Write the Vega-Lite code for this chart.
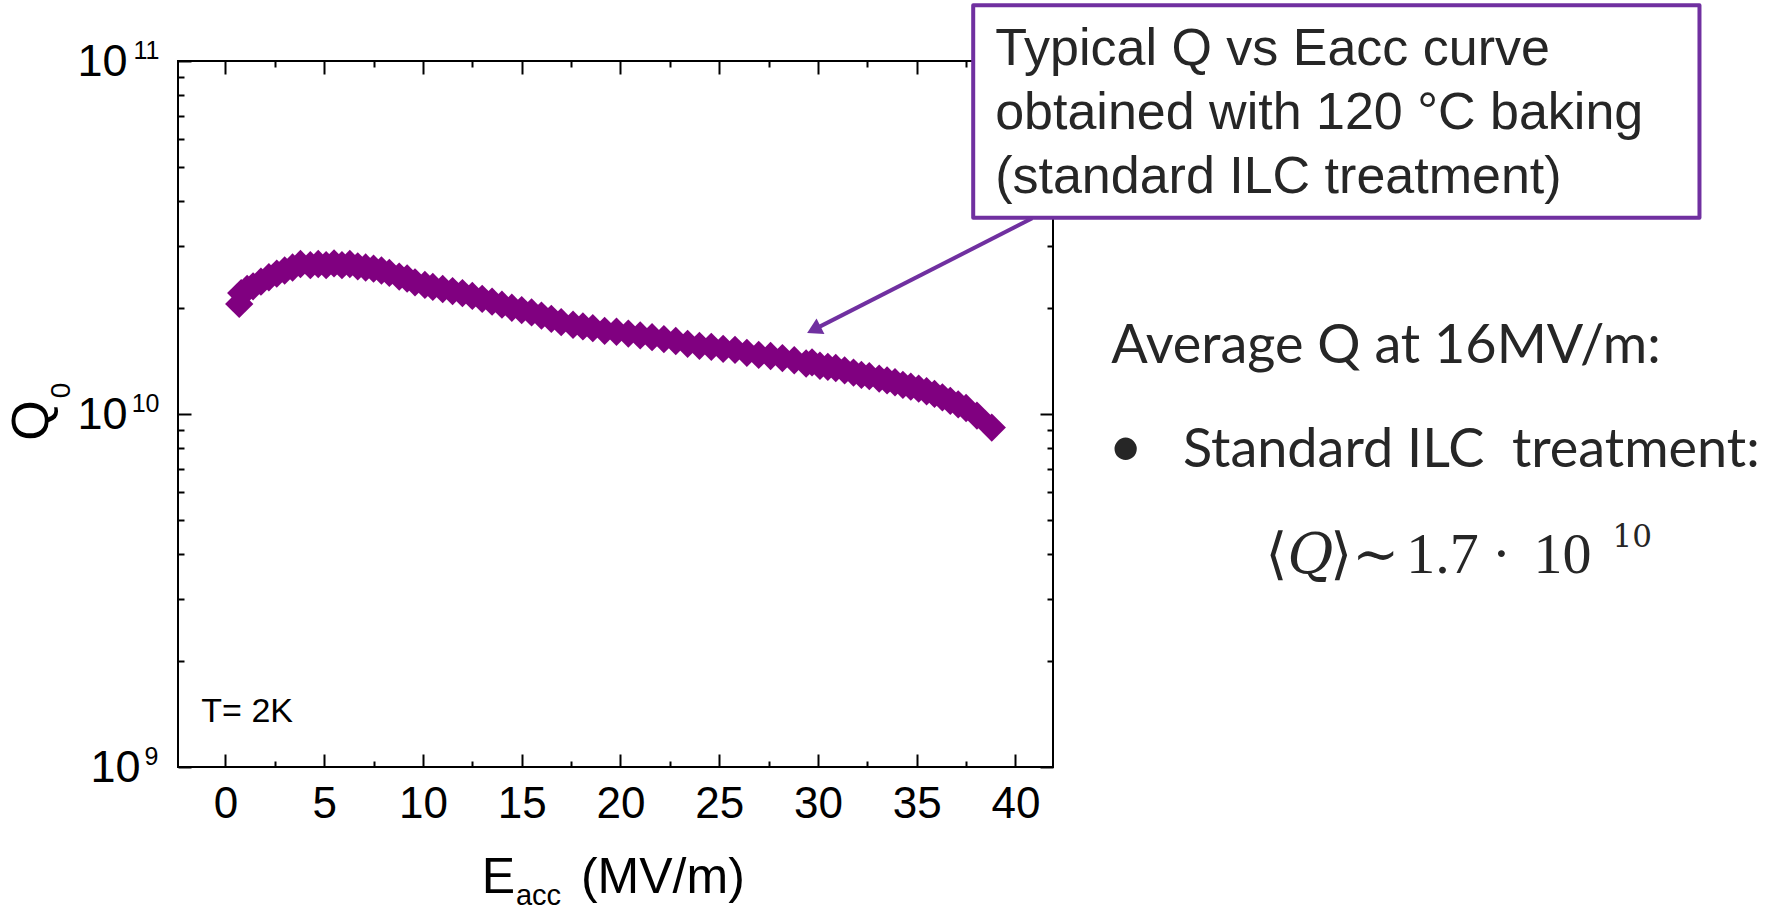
{
  "$schema": "https://vega.github.io/schema/vega-lite/v6.json",
  "width": 875,
  "height": 706,
  "autosize": {"type": "none"},
  "padding": {"left": 178, "top": 61, "right": 726, "bottom": 147},
  "background": "white",
  "config": {"view": {"stroke": "black", "strokeWidth": 2}, "font": "Liberation Sans"},
  "datasets": {
    "curve": [
      {"E": 0.7, "Q": 2.05e10}, {"E": 0.8, "Q": 2.2e10}, {"E": 1.1, "Q": 2.26e10}, {"E": 1.4, "Q": 2.3e10},
      {"E": 1.8, "Q": 2.37e10}, {"E": 2.2, "Q": 2.44e10}, {"E": 2.6, "Q": 2.5e10}, {"E": 3.0, "Q": 2.55e10},
      {"E": 3.4, "Q": 2.6e10}, {"E": 3.8, "Q": 2.66e10}, {"E": 4.3, "Q": 2.64e10}, {"E": 4.7, "Q": 2.66e10},
      {"E": 5.1, "Q": 2.64e10}, {"E": 5.5, "Q": 2.67e10}, {"E": 5.9, "Q": 2.64e10}, {"E": 6.3, "Q": 2.66e10},
      {"E": 6.7, "Q": 2.62e10}, {"E": 7.1, "Q": 2.6e10}, {"E": 7.5, "Q": 2.58e10}, {"E": 7.9, "Q": 2.55e10},
      {"E": 8.3, "Q": 2.51e10}, {"E": 8.8, "Q": 2.45e10}, {"E": 9.2, "Q": 2.42e10}, {"E": 9.6, "Q": 2.36e10},
      {"E": 10.1, "Q": 2.32e10}, {"E": 10.5, "Q": 2.29e10}, {"E": 11.0, "Q": 2.26e10}, {"E": 11.5, "Q": 2.23e10},
      {"E": 12.0, "Q": 2.2e10}, {"E": 12.5, "Q": 2.16e10}, {"E": 13.0, "Q": 2.12e10}, {"E": 13.5, "Q": 2.08e10},
      {"E": 14.0, "Q": 2.04e10}, {"E": 14.5, "Q": 2.0e10}, {"E": 15.0, "Q": 1.97e10}, {"E": 15.5, "Q": 1.94e10},
      {"E": 16.0, "Q": 1.9e10}, {"E": 16.5, "Q": 1.86e10}, {"E": 17.0, "Q": 1.82e10}, {"E": 17.6, "Q": 1.79e10},
      {"E": 18.1, "Q": 1.77e10}, {"E": 18.6, "Q": 1.75e10}, {"E": 19.2, "Q": 1.72e10}, {"E": 19.8, "Q": 1.71e10},
      {"E": 20.4, "Q": 1.69e10}, {"E": 21.0, "Q": 1.67e10}, {"E": 21.6, "Q": 1.65e10}, {"E": 22.2, "Q": 1.63e10},
      {"E": 22.8, "Q": 1.61e10}, {"E": 23.4, "Q": 1.58e10}, {"E": 24.0, "Q": 1.56e10}, {"E": 24.6, "Q": 1.55e10},
      {"E": 25.2, "Q": 1.53e10}, {"E": 25.8, "Q": 1.52e10}, {"E": 26.4, "Q": 1.49e10}, {"E": 27.0, "Q": 1.47e10},
      {"E": 27.6, "Q": 1.46e10}, {"E": 28.2, "Q": 1.44e10}, {"E": 28.8, "Q": 1.42e10}, {"E": 29.4, "Q": 1.39e10},
      {"E": 29.7, "Q": 1.4e10}, {"E": 30.1, "Q": 1.37e10}, {"E": 30.5, "Q": 1.36e10}, {"E": 30.9, "Q": 1.35e10},
      {"E": 31.35, "Q": 1.33e10}, {"E": 31.8, "Q": 1.31e10}, {"E": 32.2, "Q": 1.29e10}, {"E": 32.6, "Q": 1.28e10},
      {"E": 33.1, "Q": 1.26e10}, {"E": 33.5, "Q": 1.245e10}, {"E": 33.9, "Q": 1.23e10}, {"E": 34.3, "Q": 1.21e10},
      {"E": 34.7, "Q": 1.195e10}, {"E": 35.1, "Q": 1.18e10}, {"E": 35.5, "Q": 1.16e10}, {"E": 35.9, "Q": 1.14e10},
      {"E": 36.3, "Q": 1.115e10}, {"E": 36.7, "Q": 1.09e10}, {"E": 37.1, "Q": 1.065e10}, {"E": 37.5, "Q": 1.04e10},
      {"E": 38.05, "Q": 0.99e10}, {"E": 38.8, "Q": 0.915e10}
    ]
  },
  "resolve": {"axis": {"x": "independent", "y": "independent"}},
  "layer": [
    {
      "data": {"name": "curve"},
      "mark": {"type": "point", "shape": "diamond", "filled": true, "size": 800, "color": "#800080", "opacity": 1, "strokeWidth": 0},
      "encoding": {
        "x": {
          "field": "E", "type": "quantitative",
          "scale": {"domain": [-2.4, 41.9], "nice": false, "zero": false},
          "axis": {
            "orient": "bottom", "title": null, "domain": false, "grid": false, "ticks": false,
            "values": [0, 5, 10, 15, 20, 25, 30, 35, 40],
            "format": "d",
            "labelFont": "Liberation Sans", "labelFontSize": 44, "labelColor": "black",
            "labelPadding": 15, "labelFlush": false, "labelOverlap": false, "labelBound": false
          }
        },
        "y": {
          "field": "Q", "type": "quantitative",
          "scale": {"type": "log", "domain": [1e9, 1e11], "nice": false},
          "axis": {
            "orient": "left", "title": null, "domain": false, "grid": false, "ticks": false,
            "values": [1e9, 1e10, 1e11],
            "labelExpr": "'10'",
            "labelFont": "Liberation Sans", "labelFontSize": 45, "labelColor": "black",
            "labelPadding": {"condition": {"test": "datum.value === 1e9", "value": 38}, "value": 51},
            "labelOverlap": false, "labelBound": false, "labelFlush": false
          }
        }
      }
    },
    {
      "data": {"values": [{}]},
      "mark": {"type": "text", "text": "T= 2K", "font": "Liberation Sans", "fontSize": 34, "align": "left", "baseline": "alphabetic", "color": "black"},
      "encoding": {
        "x": {
          "datum": -1.22, "type": "quantitative",
          "scale": {"domain": [-2.4, 41.9], "nice": false, "zero": false},
          "axis": {
            "orient": "top", "title": null, "domain": false, "grid": false, "labels": false,
            "values": [0, 2.5, 5, 7.5, 10, 12.5, 15, 17.5, 20, 22.5, 25, 27.5, 30, 32.5, 35, 37.5, 40],
            "tickColor": "black", "tickWidth": 2,
            "tickSize": {"condition": {"test": "datum.value % 5 === 0", "value": -13}, "value": -6}
          }
        },
        "y": {
          "datum": 1.342e9, "type": "quantitative",
          "scale": {"type": "log", "domain": [1e9, 1e11], "nice": false},
          "axis": {
            "orient": "right", "title": null, "domain": false, "grid": false, "labels": false,
            "values": [1e9, 2e9, 3e9, 4e9, 5e9, 6e9, 7e9, 8e9, 9e9, 1e10, 2e10, 3e10, 4e10, 5e10, 6e10, 7e10, 8e10, 9e10, 1e11],
            "tickColor": "black", "tickWidth": 2,
            "tickSize": {"condition": {"test": "datum.value === 1e9 || datum.value === 1e10 || datum.value === 1e11", "value": -13}, "value": -6}
          }
        }
      }
    },
    {
      "data": {"values": [{}]},
      "mark": {"type": "text", "text": "Q", "font": "Liberation Sans", "fontSize": 52, "angle": 270, "align": "center", "baseline": "alphabetic", "color": "black"},
      "encoding": {
        "x": {
          "datum": -9.0, "type": "quantitative",
          "scale": {"domain": [-2.4, 41.9], "nice": false, "zero": false},
          "axis": {
            "orient": "bottom", "title": null, "domain": false, "grid": false, "labels": false,
            "values": [0, 2.5, 5, 7.5, 10, 12.5, 15, 17.5, 20, 22.5, 25, 27.5, 30, 32.5, 35, 37.5, 40],
            "tickColor": "black", "tickWidth": 2,
            "tickSize": {"condition": {"test": "datum.value % 5 === 0", "value": -13}, "value": -6}
          }
        },
        "y": {
          "datum": 9.59e9, "type": "quantitative",
          "scale": {"type": "log", "domain": [1e9, 1e11], "nice": false},
          "axis": {
            "orient": "left", "title": null, "domain": false, "grid": false, "labels": false,
            "values": [1e9, 2e9, 3e9, 4e9, 5e9, 6e9, 7e9, 8e9, 9e9, 1e10, 2e10, 3e10, 4e10, 5e10, 6e10, 7e10, 8e10, 9e10, 1e11],
            "tickColor": "black", "tickWidth": 2,
            "tickSize": {"condition": {"test": "datum.value === 1e9 || datum.value === 1e10 || datum.value === 1e11", "value": -13}, "value": -6}
          }
        }
      }
    },
    {
      "data": {"values": [{}]},
      "mark": {"type": "text", "text": "0", "font": "Liberation Sans", "fontSize": 28, "angle": 270, "align": "left", "baseline": "alphabetic", "color": "black"},
      "encoding": {
        "x": {"datum": -7.89, "type": "quantitative", "scale": {"domain": [-2.4, 41.9], "nice": false, "zero": false}, "axis": null},
        "y": {
          "datum": 1.108e10, "type": "quantitative",
          "scale": {"type": "log", "domain": [1e9, 1e11], "nice": false},
          "axis": {
            "orient": "left", "title": null, "domain": false, "grid": false, "ticks": false,
            "values": [1e9, 1e10, 1e11],
            "labelExpr": "datum.value === 1e9 ? '9' : datum.value === 1e10 ? '10' : '11'",
            "labelFont": "Liberation Sans", "labelFontSize": 25, "labelColor": "black",
            "labelAlign": "right", "labelBaseline": "alphabetic", "labelOffset": -3,
            "labelPadding": {"condition": {"test": "datum.value === 1e9", "value": 20}, "value": 19},
            "labelOverlap": false, "labelBound": false, "labelFlush": false
          }
        }
      }
    },
    {
      "data": {"values": [{}]},
      "mark": {"type": "text", "text": "E", "font": "Liberation Sans", "fontSize": 50, "align": "left", "baseline": "alphabetic", "color": "black"},
      "encoding": {
        "x": {"datum": 12.98, "type": "quantitative", "axis": null},
        "y": {"datum": 4.387e8, "type": "quantitative", "scale": {"type": "log"}, "axis": null}
      }
    },
    {
      "data": {"values": [{}]},
      "mark": {"type": "text", "text": "acc", "font": "Liberation Sans", "fontSize": 29, "align": "left", "baseline": "alphabetic", "color": "black"},
      "encoding": {
        "x": {"datum": 14.71, "type": "quantitative", "axis": null},
        "y": {"datum": 4.058e8, "type": "quantitative", "scale": {"type": "log"}, "axis": null}
      }
    },
    {
      "data": {"values": [{}]},
      "mark": {"type": "text", "text": "(MV/m)", "font": "Liberation Sans", "fontSize": 50, "align": "left", "baseline": "alphabetic", "color": "black"},
      "encoding": {
        "x": {"datum": 18.0, "type": "quantitative", "axis": null},
        "y": {"datum": 4.387e8, "type": "quantitative", "scale": {"type": "log"}, "axis": null}
      }
    },
    {
      "data": {"values": [{}]},
      "mark": {"type": "rule", "color": "#7030A0", "strokeWidth": 4},
      "encoding": {
        "x": {"datum": 40.85, "type": "quantitative", "axis": null},
        "y": {"datum": 3.584e10, "type": "quantitative", "scale": {"type": "log"}, "axis": null},
        "x2": {"datum": 29.79},
        "y2": {"datum": 1.734e10}
      }
    },
    {
      "data": {"values": [{}]},
      "mark": {"type": "point", "shape": "triangle-up", "filled": true, "color": "#7030A0", "size": 300, "angle": 243, "opacity": 1, "strokeWidth": 0},
      "encoding": {
        "x": {"datum": 29.79, "type": "quantitative", "axis": null},
        "y": {"datum": 1.734e10, "type": "quantitative", "scale": {"type": "log"}, "axis": null}
      }
    },
    {
      "data": {"values": [{}]},
      "mark": {"type": "rect", "fill": "white", "stroke": "#7030A0", "strokeWidth": 4, "strokeJoin": "round"},
      "encoding": {
        "x": {"datum": 37.86, "type": "quantitative", "axis": null},
        "x2": {"datum": 74.63},
        "y": {"datum": 1.438e11, "type": "quantitative", "scale": {"type": "log"}, "axis": null},
        "y2": {"datum": 3.596e10}
      }
    },
    {
      "data": {"values": [{}]},
      "mark": {"type": "text", "text": ["Typical Q vs Eacc curve", "obtained with 120 °C baking", "(standard ILC treatment)"], "font": "Liberation Sans", "fontSize": 52, "lineHeight": 64, "align": "left", "baseline": "alphabetic", "color": "#262626"},
      "encoding": {
        "x": {"datum": 38.97, "type": "quantitative", "axis": null},
        "y": {"datum": 9.72e10, "type": "quantitative", "scale": {"type": "log"}, "axis": null}
      }
    },
    {
      "data": {"values": [{}]},
      "mark": {"type": "text", "text": "Average Q at 16MV/m:", "font": "Lato", "fontSize": 54, "align": "left", "baseline": "alphabetic", "color": "#262626"},
      "encoding": {
        "x": {"datum": 44.85, "type": "quantitative", "axis": null},
        "y": {"datum": 1.392e10, "type": "quantitative", "scale": {"type": "log"}, "axis": null}
      }
    },
    {
      "data": {"values": [{}]},
      "mark": {"type": "text", "text": "•", "font": "Lato", "fontSize": 60, "align": "left", "baseline": "alphabetic", "color": "#262626"},
      "encoding": {
        "x": {"datum": 44.7, "type": "quantitative", "axis": null},
        "y": {"datum": 7.08e9, "type": "quantitative", "scale": {"type": "log"}, "axis": null}
      }
    },
    {
      "data": {"values": [{}]},
      "mark": {"type": "text", "text": "Standard ILC\u00a0\u00a0treatment:", "font": "Lato", "fontSize": 54, "align": "left", "baseline": "alphabetic", "color": "#262626"},
      "encoding": {
        "x": {"datum": 48.48, "type": "quantitative", "axis": null},
        "y": {"datum": 7.08e9, "type": "quantitative", "scale": {"type": "log"}, "axis": null}
      }
    },
    {
      "data": {"values": [{}]},
      "mark": {"type": "text", "text": "⟨", "font": "DejaVu Serif", "fontSize": 56, "align": "left", "baseline": "alphabetic", "color": "#262626"},
      "encoding": {
        "x": {"datum": 52.66, "type": "quantitative", "axis": null},
        "y": {"datum": 3.537e9, "type": "quantitative", "scale": {"type": "log"}, "axis": null}
      }
    },
    {
      "data": {"values": [{}]},
      "mark": {"type": "text", "text": "Q", "font": "DejaVu Serif", "fontStyle": "italic", "fontSize": 56, "align": "left", "baseline": "alphabetic", "color": "#262626"},
      "encoding": {
        "x": {"datum": 53.77, "type": "quantitative", "axis": null},
        "y": {"datum": 3.537e9, "type": "quantitative", "scale": {"type": "log"}, "axis": null}
      }
    },
    {
      "data": {"values": [{}]},
      "mark": {"type": "text", "text": "⟩~", "font": "DejaVu Serif", "fontSize": 56, "align": "left", "baseline": "alphabetic", "color": "#262626"},
      "encoding": {
        "x": {"datum": 55.94, "type": "quantitative", "axis": null},
        "y": {"datum": 3.537e9, "type": "quantitative", "scale": {"type": "log"}, "axis": null}
      }
    },
    {
      "data": {"values": [{}]},
      "mark": {"type": "text", "text": "1.7", "font": "Liberation Serif", "fontSize": 58, "align": "left", "baseline": "alphabetic", "color": "#262626"},
      "encoding": {
        "x": {"datum": 59.79, "type": "quantitative", "axis": null},
        "y": {"datum": 3.537e9, "type": "quantitative", "scale": {"type": "log"}, "axis": null}
      }
    },
    {
      "data": {"values": [{}]},
      "mark": {"type": "text", "text": "·", "font": "Liberation Serif", "fontSize": 58, "align": "center", "baseline": "alphabetic", "color": "#262626"},
      "encoding": {
        "x": {"datum": 64.6, "type": "quantitative", "axis": null},
        "y": {"datum": 3.537e9, "type": "quantitative", "scale": {"type": "log"}, "axis": null}
      }
    },
    {
      "data": {"values": [{}]},
      "mark": {"type": "text", "text": "10", "font": "Liberation Serif", "fontSize": 58, "align": "left", "baseline": "alphabetic", "color": "#262626"},
      "encoding": {
        "x": {"datum": 66.23, "type": "quantitative", "axis": null},
        "y": {"datum": 3.537e9, "type": "quantitative", "scale": {"type": "log"}, "axis": null}
      }
    },
    {
      "data": {"values": [{}]},
      "mark": {"type": "text", "text": "10", "font": "DejaVu Serif", "fontSize": 31, "align": "left", "baseline": "alphabetic", "color": "#262626"},
      "encoding": {
        "x": {"datum": 70.23, "type": "quantitative", "axis": null},
        "y": {"datum": 4.19e9, "type": "quantitative", "scale": {"type": "log"}, "axis": null}
      }
    }
  ]
}
